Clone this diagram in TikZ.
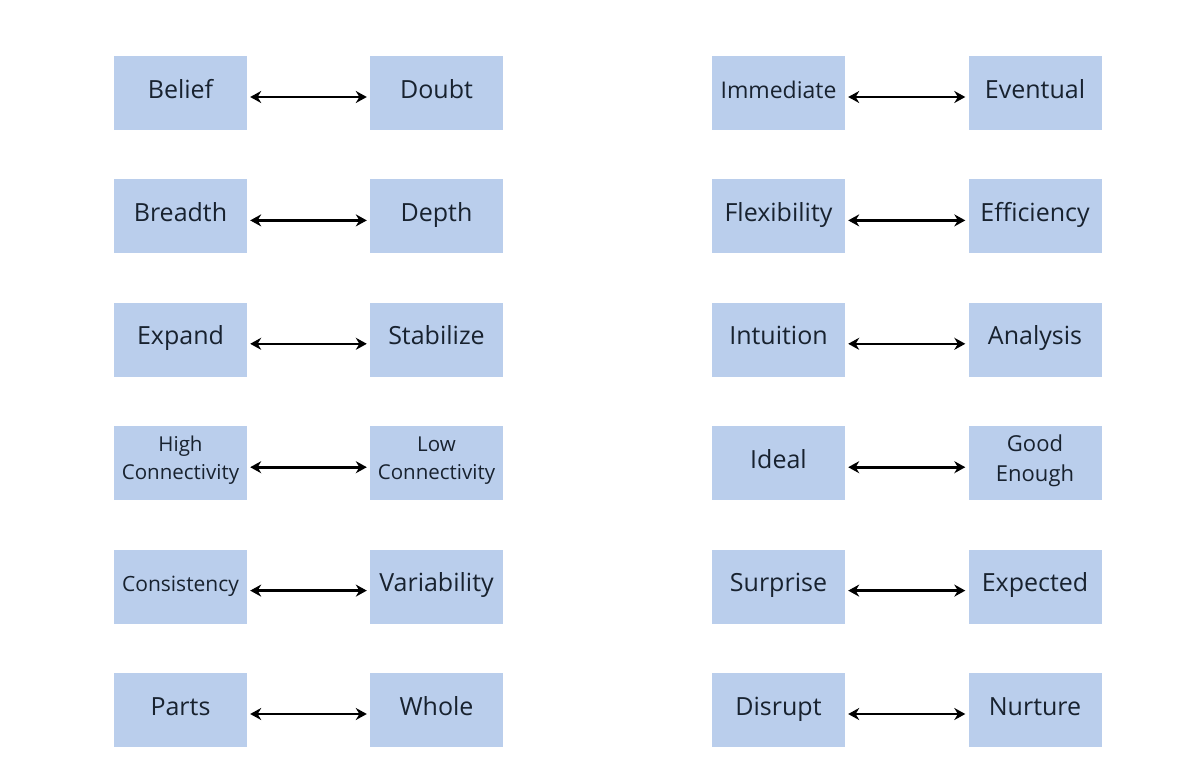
\documentclass[tikz,border=0pt]{standalone}
\usepackage{fontspec}
\setmainfont{Open Sans}
\usetikzlibrary{arrows.meta,backgrounds,fadings}
\definecolor{note}{HTML}{BACEEC}
\definecolor{ink}{HTML}{18222F}
\tikzset{
  notebox/.style={fill=note, minimum width=133pt, minimum height=74pt, inner sep=0pt,
    text=ink, font=\fontsize{25}{28}\selectfont, text height=18pt, text depth=8pt},
  smalltxt/.style={font=\fontsize{21}{24}\selectfont},
  twoline/.style={align=center, text height=, text depth=},
  arr/.style={{Stealth[length=11pt,width=12pt]}-{Stealth[length=11pt,width=12pt]}, line width=2.6pt, black, shorten <=3pt, shorten >=3pt},
  shadowbar/.style={fill=black, opacity=0.45, path fading=south}
}
\newcommand{\pairarrow}[2]{\draw[arr] ([yshift=-4pt]#1.east) -- ([yshift=-4pt]#2.west);}
\newcommand{\lowdepth}{\rule[-10pt]{0pt}{10pt}}
\begin{document}
\begin{tikzpicture}[x=1pt,y=-1pt]
\useasboundingbox[fill=white] (0,0) rectangle (1200,779);
% left block
\node[notebox] (b1) at (180.5,93) {Belief};
\node[notebox] (d1) at (436.5,93) {Doubt};
\node[notebox] (b2) at (180.5,216.4) {Breadth};
\node[notebox] (d2) at (436.5,216.4) {Depth};
\node[notebox] (b3) at (180.5,339.8) {Expand};
\node[notebox] (d3) at (436.5,339.8) {Stabilize};
\node[notebox,twoline,font=\fontsize{20.5}{28}\selectfont] (b4) at (180.5,463.2) {High\\Connectivity\lowdepth};
\node[notebox,twoline,font=\fontsize{20.5}{28}\selectfont] (d4) at (436.5,463.2) {Low\\Connectivity\lowdepth};
\node[notebox,smalltxt] (b5) at (180.5,586.6) {Consistency};
\node[notebox] (d5) at (436.5,586.6) {Variability};
\node[notebox] (b6) at (180.5,710) {Parts};
\node[notebox] (d6) at (436.5,710) {Whole};
% right block
\node[notebox,font=\fontsize{23}{26}\selectfont] (r1) at (778.5,93) {Immediate};
\node[notebox] (s1) at (1035,93) {Eventual};
\node[notebox] (r2) at (778.5,216.4) {Flexibility};
\node[notebox] (s2) at (1035,216.4) {Efficiency};
\node[notebox] (r3) at (778.5,339.8) {Intuition};
\node[notebox] (s3) at (1035,339.8) {Analysis};
\node[notebox] (r4) at (778.5,463.2) {Ideal};
\node[notebox,twoline,font=\fontsize{22}{30}\selectfont] (s4) at (1035,463.2) {Good\\Enough\lowdepth};
\node[notebox] (r5) at (778.5,586.6) {Surprise};
\node[notebox] (s5) at (1035,586.6) {Expected};
\node[notebox] (r6) at (778.5,710) {Disrupt};
\node[notebox] (s6) at (1035,710) {Nurture};
% shadows
\begin{scope}[on background layer]
\foreach \n in {b1,d1,b2,d2,b3,d3,b4,d4,b5,d5,b6,d6,r1,s1,r2,s2,r3,s3,r4,s4,r5,s5,r6,s6}{
  \fill[shadowbar] ([xshift=10pt,yshift=2pt]\n.south west) rectangle ([xshift=-10pt,yshift=-7pt]\n.south east);
}
\end{scope}
% arrows
\pairarrow{b1}{d1}
\pairarrow{b2}{d2}
\pairarrow{b3}{d3}
\pairarrow{b4}{d4}
\pairarrow{b5}{d5}
\pairarrow{b6}{d6}
\pairarrow{r1}{s1}
\pairarrow{r2}{s2}
\pairarrow{r3}{s3}
\pairarrow{r4}{s4}
\pairarrow{r5}{s5}
\pairarrow{r6}{s6}
\end{tikzpicture}
\end{document}
